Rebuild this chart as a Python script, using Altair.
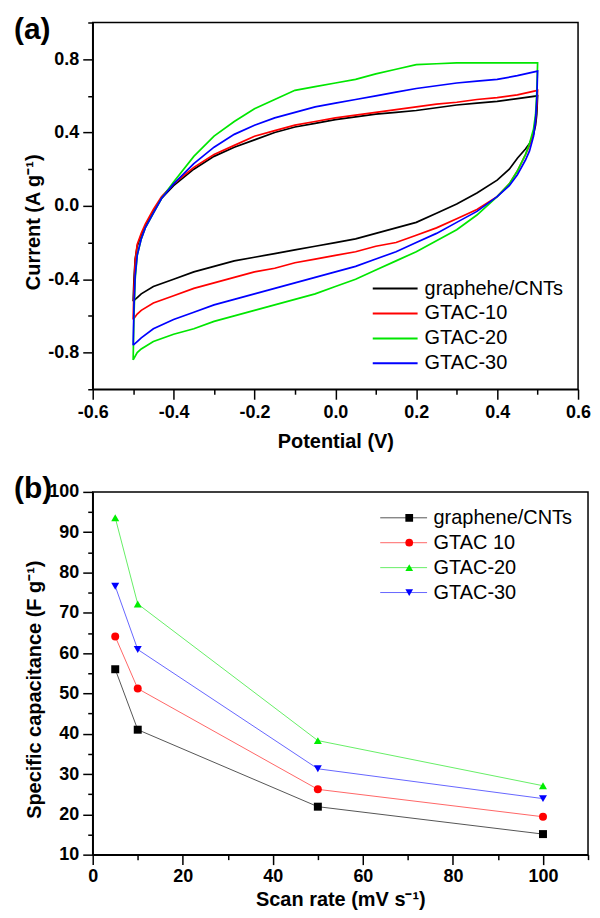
import altair as alt
import pandas as pd

FONT = "Liberation Sans"

# ---------------- Panel (a): cyclic voltammetry ----------------
cv_series = ["graphehe/CNTs", "GTAC-10", "GTAC-20", "GTAC-30"]
cv_colors = ["#000000", "#ff0000", "#00e600", "#0000ff"]

cv_potential = [-0.5, -0.498, -0.495, -0.49, -0.48, -0.47, -0.45, -0.43, -0.4, -0.35, -0.3, -0.25,
                -0.2, -0.15, -0.1, -0.05, 0.0, 0.05, 0.1, 0.15, 0.2, 0.25, 0.3, 0.35, 0.4, 0.45, 0.5,
                0.498, 0.495, 0.49, 0.48, 0.47, 0.45, 0.43, 0.4, 0.35, 0.3, 0.25, 0.2, 0.15, 0.1, 0.05,
                0.0, -0.05, -0.1, -0.15, -0.2, -0.25, -0.3, -0.35, -0.4, -0.45, -0.48, -0.49, -0.5]

cv_graphene = [-0.52, -0.40, -0.29, -0.22, -0.16, -0.11, -0.03, 0.04, 0.11, 0.20, 0.27, 0.32, 0.36, 0.40,
               0.43, 0.45, 0.47, 0.485, 0.50, 0.51, 0.52, 0.535, 0.55, 0.56, 0.57, 0.585, 0.60,
               0.50, 0.44, 0.39, 0.34, 0.31, 0.26, 0.20, 0.14, 0.07, 0.01, -0.04, -0.09, -0.12, -0.15,
               -0.18, -0.20, -0.22, -0.24, -0.26, -0.28, -0.30, -0.33, -0.36, -0.40, -0.44, -0.48, -0.50, -0.52]
cv_gtac10 = [-0.62, -0.45, -0.30, -0.21, -0.15, -0.10, -0.02, 0.05, 0.12, 0.21, 0.28, 0.33, 0.38, 0.41,
             0.44, 0.46, 0.48, 0.495, 0.51, 0.525, 0.54, 0.555, 0.565, 0.58, 0.59, 0.605, 0.63,
             0.55, 0.47, 0.40, 0.33, 0.28, 0.19, 0.12, 0.05, -0.02, -0.07, -0.12, -0.16, -0.20, -0.22,
             -0.25, -0.27, -0.29, -0.31, -0.34, -0.36, -0.39, -0.42, -0.45, -0.49, -0.53, -0.57, -0.59, -0.62]
cv_gtac20 = [-0.84, -0.60, -0.40, -0.27, -0.18, -0.12, -0.04, 0.04, 0.13, 0.27, 0.38, 0.46, 0.53, 0.58,
             0.63, 0.65, 0.67, 0.69, 0.72, 0.745, 0.77, 0.775, 0.78, 0.78, 0.78, 0.78, 0.78,
             0.62, 0.50, 0.42, 0.34, 0.28, 0.19, 0.12, 0.05, -0.05, -0.13, -0.19, -0.25, -0.30, -0.35,
             -0.40, -0.44, -0.48, -0.51, -0.54, -0.57, -0.60, -0.63, -0.67, -0.70, -0.74, -0.78, -0.80, -0.84]
cv_gtac30 = [-0.76, -0.55, -0.38, -0.27, -0.18, -0.12, -0.04, 0.04, 0.12, 0.23, 0.32, 0.39, 0.44, 0.48,
             0.51, 0.54, 0.56, 0.58, 0.60, 0.62, 0.64, 0.655, 0.67, 0.68, 0.69, 0.71, 0.735,
             0.58, 0.47, 0.38, 0.30, 0.25, 0.17, 0.11, 0.05, -0.03, -0.09, -0.15, -0.20, -0.25, -0.29,
             -0.33, -0.36, -0.39, -0.42, -0.45, -0.48, -0.51, -0.54, -0.58, -0.62, -0.67, -0.72, -0.74, -0.76]

cv_x_ticks = [-0.6, -0.5, -0.4, -0.3, -0.2, -0.1, 0.0, 0.1, 0.2, 0.3, 0.4, 0.5, 0.6]
cv_y_ticks = [-1.0, -0.8, -0.6, -0.4, -0.2, 0.0, 0.2, 0.4, 0.6, 0.8, 1.0]

# ---------------- Panel (b): specific capacitance ----------------
sc_series = ["graphene/CNTs", "GTAC 10", "GTAC-20", "GTAC-30"]
sc_point_colors = ["#000000", "#ff0000", "#00ee00", "#0000ff"]
sc_line_colors = ["#555555", "#ff6666", "#66ee66", "#6666ff"]
sc_shapes = ["square", "circle", "triangle-up", "triangle-down"]
scan_rate = [5, 10, 50, 100]
sc_graphene = [56.0, 41.0, 21.9, 15.1]
sc_gtac10 = [64.1, 51.2, 26.2, 19.4]
sc_gtac20 = [93.6, 72.2, 38.3, 27.1]
sc_gtac30 = [76.6, 60.9, 31.3, 23.9]

sc_x_ticks = [0, 10, 20, 30, 40, 50, 60, 70, 80, 90, 100, 110]
sc_y_ticks = [10, 15, 20, 25, 30, 35, 40, 45, 50, 55, 60, 65, 70, 75, 80, 85, 90, 95, 100]

# ---------------- tables ----------------
cv_rows = []
for s, cur in zip(cv_series, [cv_graphene, cv_gtac10, cv_gtac20, cv_gtac30]):
    for i, (p, c) in enumerate(zip(cv_potential, cur)):
        cv_rows.append({"series": s, "i": i, "potential": p, "current": c})
cv_df = pd.DataFrame(cv_rows)

sc_rows = []
for s, vals in zip(sc_series, [sc_graphene, sc_gtac10, sc_gtac20, sc_gtac30]):
    for r, v in zip(scan_rate, vals):
        sc_rows.append({"series": s, "rate": r, "cap": v})
sc_df = pd.DataFrame(sc_rows)

MINUS = "\u2212"

axis_style = dict(
    labelFont=FONT, labelFontWeight="bold", labelFontSize=18, labelColor="black",
    titleFont=FONT, titleFontWeight="bold", titleFontSize=20, titleColor="black",
    domainColor="black", domainWidth=1.5, tickColor="black", tickWidth=1.5,
    grid=False, labelFlush=False, labelOverlap=False,
)

legend_style = dict(
    title=None, orient="none", labelFont=FONT, labelFontSize=20, labelColor="black",
    clipHeight=20, rowPadding=5, padding=0,
)

# ---------- Panel (a) ----------
cv_x = alt.X(
    "potential:Q",
    scale=alt.Scale(domain=[-0.6, 0.6], nice=False, zero=False),
    axis=alt.Axis(
        title="Potential (V)", values=cv_x_ticks,
        tickSize={"condition": {"test": "abs(round(datum.value*10)) % 2 == 0", "value": 10}, "value": 5},
        labelExpr="abs(round(datum.value*10)) % 2 == 0 ? replace(format(datum.value, '.1f'), '" + MINUS + "', '-') : ''",
        labelPadding=4, titlePadding=10, **axis_style),
)
cv_y = alt.Y(
    "current:Q",
    scale=alt.Scale(domain=[-1.0, 1.0], nice=False, zero=False),
    axis=alt.Axis(
        title="Current (A g\u207b\u00b9)", values=cv_y_ticks,
        tickSize={"condition": {"test": "abs(round(datum.value*5)) % 2 == 0", "value": 10}, "value": 5},
        labelExpr="abs(round(datum.value*5)) % 2 == 0 ? replace(format(datum.value, '.1f'), '" + MINUS + "', '-') : ''",
        labelPadding=4, titlePadding=4, titleY=200, **axis_style),
)

cv_lines = alt.Chart(cv_df).mark_line(strokeWidth=1.7).encode(
    x=cv_x, y=cv_y,
    order="i:Q",
    color=alt.Color(
        "series:N",
        scale=alt.Scale(domain=cv_series, range=cv_colors),
        legend=alt.Legend(legendX=280, legendY=257, symbolType="stroke", symbolSize=2025,
                          symbolStrokeWidth=2, labelOffset=6, **legend_style),
    ),
)

tag_a = alt.Chart(pd.DataFrame({"t": ["(a)"]})).mark_text(
    font=FONT, fontWeight="bold", fontSize=30, align="left", baseline="top", color="black"
).encode(text="t:N", x=alt.value(-79), y=alt.value(-7))

panel_a = alt.layer(cv_lines, tag_a).properties(width=487, height=368)

# ---------- Panel (b) ----------
sc_x = alt.X(
    "rate:Q",
    scale=alt.Scale(domain=[0, 110], nice=False, zero=False),
    axis=alt.Axis(
        title="Scan rate (mV s\u207b\u00b9)", values=sc_x_ticks,
        tickSize={"condition": {"test": "datum.value % 20 == 0", "value": 10}, "value": 5},
        labelExpr="datum.value % 20 == 0 ? datum.label : ''",
        labelPadding=3, titlePadding=4, **axis_style),
)
sc_y = alt.Y(
    "cap:Q",
    scale=alt.Scale(domain=[10, 100], nice=False, zero=False),
    axis=alt.Axis(
        title="Specific capacitance (F g\u207b\u00b9)", values=sc_y_ticks,
        tickSize={"condition": {"test": "datum.value % 10 == 0", "value": 10}, "value": 5},
        labelExpr="datum.value % 10 == 0 ? datum.label : ''",
        labelPadding=4, titlePadding=4, titleY=198, **axis_style),
)

sc_lines = alt.Chart(sc_df).mark_line(strokeWidth=1).encode(
    x=sc_x, y=sc_y,
    color=alt.Color(
        "series:N",
        scale=alt.Scale(domain=sc_series, range=sc_line_colors),
        legend=alt.Legend(legendX=288, legendY=16, symbolType="stroke", symbolSize=2209,
                          symbolStrokeWidth=1, labelOffset=6, **legend_style),
    ),
)

pt_legend = dict(legendX=307.6, legendY=16, labelExpr="''", symbolSize=60, labelOffset=0, **legend_style)
sc_points = alt.Chart(sc_df).mark_point(filled=True, size=64, opacity=1).encode(
    x=sc_x, y=sc_y,
    color=alt.Color(
        "series:N",
        scale=alt.Scale(domain=sc_series, range=sc_point_colors),
        legend=alt.Legend(**pt_legend),
    ),
    shape=alt.Shape(
        "series:N",
        scale=alt.Scale(domain=sc_series, range=sc_shapes),
        legend=alt.Legend(**pt_legend),
    ),
)

tag_b = alt.Chart(pd.DataFrame({"t": ["(b)"]})).mark_text(
    font=FONT, fontWeight="bold", fontSize=30, align="left", baseline="top", color="black"
).encode(text="t:N", x=alt.value(-79), y=alt.value(-18))

panel_b = alt.layer(sc_lines, sc_points, tag_b).resolve_scale(
    color="independent", shape="independent"
).properties(width=497, height=364)

chart = alt.vconcat(panel_a, panel_b, spacing=21).resolve_scale(
    color="independent", shape="independent"
).properties(
    padding={"left": 5, "top": 3, "right": 0, "bottom": 0},
    background="white",
).configure_view(stroke="black", strokeWidth=1.5)

chart.save("out.html", embed_options={"renderer": "svg", "actions": False})
